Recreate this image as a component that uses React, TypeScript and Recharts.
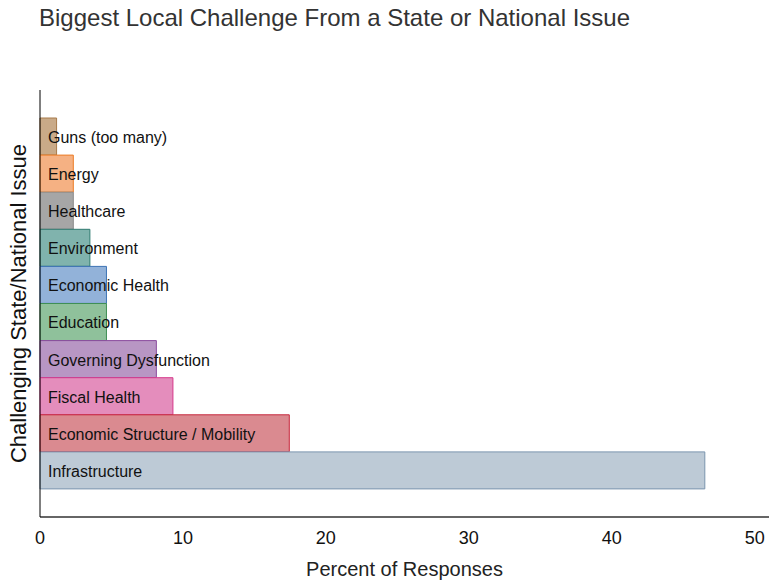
import { BarChart, Bar, XAxis, YAxis, Cell, LabelList } from "recharts";

const issues = [
  "Guns (too many)",
  "Energy",
  "Healthcare",
  "Environment",
  "Economic Health",
  "Education",
  "Governing Dysfunction",
  "Fiscal Health",
  "Economic Structure / Mobility",
  "Infrastructure",
];
const percents = [1.16, 2.33, 2.33, 3.49, 4.65, 4.65, 8.14, 9.3, 17.44, 46.51];
const fills = ["#c9aa88", "#f5b183", "#a6a6a6", "#80b3ad", "#92b2d9", "#8fc19b", "#b896c4", "#e48dbc", "#da8a90", "#bdcad6"];
const strokes = ["#a87b4a", "#ec7c26", "#8a8a8a", "#2f7a70", "#3d73b4", "#3f8f55", "#8b4c9e", "#d6398c", "#c7283c", "#7b95ae"];
const xTicks = [0, 10, 20, 30, 40, 50];

const data = issues.map((name, i) => ({ name, value: percents[i] }));

const font = "'Liberation Sans', Arial, Helvetica, sans-serif";

// plain svg text so long names run past the bar end instead of wrapping
const BarName = (props: any) => {
  const { x, y, height, value } = props;
  return (
    <text x={Number(x) + 8} y={Number(y) + Number(height) / 2} dy="0.4em" fontSize={16} fill="#111" fontFamily={font}>
      {value}
    </text>
  );
};

export default function App() {
  return (
    <div style={{ position: "fixed", left: 0, top: 0, width: 769, height: 580, background: "#fff", fontFamily: font }}>
      <div style={{ position: "absolute", left: 39, top: 4, fontSize: 24, color: "#333" }}>
        Biggest Local Challenge From a State or National Issue
      </div>
      <BarChart
        width={769}
        height={580}
        data={data}
        layout="vertical"
        margin={{ top: 90, right: 0, bottom: 0, left: 0 }}
        barCategoryGap={0}
      >
        <XAxis
          type="number"
          domain={[0, 51]}
          ticks={xTicks}
          tickLine={false}
          tickMargin={8}
          axisLine={{ stroke: "#333", strokeWidth: 1.5 }}
          tick={{ fontSize: 18, fill: "#111", fontFamily: font }}
          height={63}
          label={{ value: "Percent of Responses", position: "insideBottom", offset: 4, fontSize: 20, fill: "#222", fontFamily: font }}
        />
        <YAxis
          type="category"
          dataKey="name"
          width={40}
          tick={false}
          tickLine={false}
          axisLine={{ stroke: "#000", strokeWidth: 1 }}
          padding={{ top: 28, bottom: 28 }}
          label={{ value: "Challenging State/National Issue", angle: -90, position: "center", dx: -2, fontSize: 22, fill: "#111", fontFamily: font }}
        />
        <Bar dataKey="value" isAnimationActive={false} strokeWidth={1}>
          {data.map((d, i) => (
            <Cell key={d.name} fill={fills[i]} stroke={strokes[i]} />
          ))}
          <LabelList dataKey="name" content={BarName} />
        </Bar>
      </BarChart>
    </div>
  );
}
